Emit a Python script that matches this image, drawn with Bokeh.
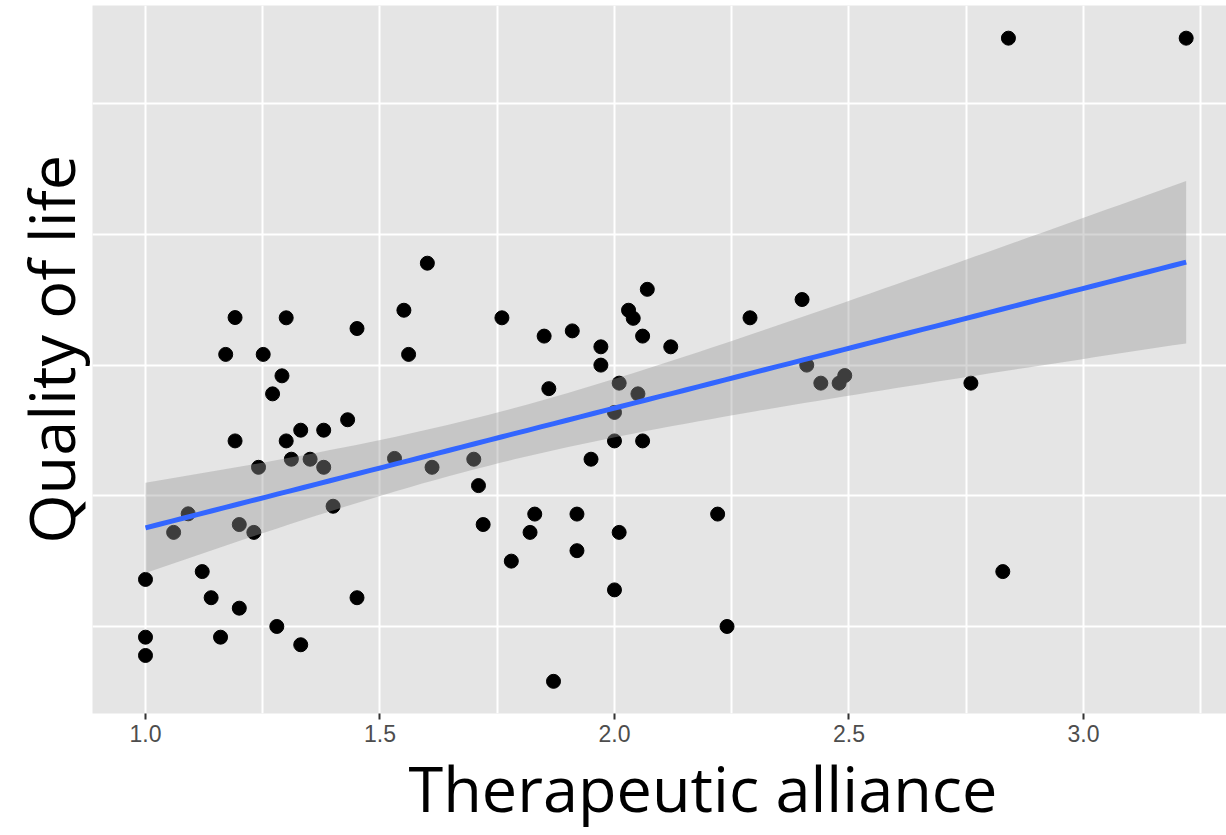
import numpy as np
from bokeh.plotting import figure
from bokeh.models import Range1d, FixedTicker, NumeralTickFormatter, Title
from bokeh.embed import file_html
from bokeh.resources import INLINE

# Therapeutic alliance (x) and Quality of life (y)
alliance = [2.840, 3.219, 1.601, 1.191, 1.300, 1.551, 1.451, 1.171, 1.251, 1.561,
            1.291, 1.271, 1.431, 1.331, 1.380, 1.191, 1.300, 1.311, 1.351, 1.241,
            1.380, 1.531, 1.611, 1.091, 1.060, 1.200, 1.231, 1.400, 1.000, 1.121,
            1.140, 1.200, 1.451, 1.280, 1.331, 1.000, 1.160, 1.000, 1.760, 1.850,
            1.910, 1.971, 1.971, 2.030, 2.040, 2.070, 2.060, 2.120, 1.860, 2.010,
            2.050, 2.000, 2.000, 2.060, 1.950, 1.700, 1.710, 1.720, 1.830, 1.920,
            1.820, 2.010, 1.920, 1.780, 2.000, 2.220, 2.240, 1.870, 2.289, 2.400,
            2.410, 2.440, 2.479, 2.491, 2.760, 2.828]
quality = [4.251, 4.251, 3.390, 3.182, 3.181, 3.210, 3.140, 3.041, 3.041, 3.041,
           2.959, 2.890, 2.791, 2.751, 2.751, 2.710, 2.710, 2.640, 2.640, 2.609,
           2.609, 2.643, 2.609, 2.431, 2.360, 2.390, 2.360, 2.460, 2.180, 2.210,
           2.110, 2.070, 2.110, 2.000, 1.930, 1.959, 1.959, 1.889, 3.181, 3.111,
           3.131, 3.070, 3.000, 3.210, 3.179, 3.290, 3.111, 3.070, 2.910, 2.931,
           2.890, 2.819, 2.710, 2.710, 2.640, 2.640, 2.539, 2.390, 2.430, 2.430,
           2.360, 2.360, 2.290, 2.250, 2.140, 2.430, 2.000, 1.790, 3.181, 3.251,
           3.000, 2.931, 2.931, 2.960, 2.931, 2.210]

x_ticks = [1.0, 1.5, 2.0, 2.5, 3.0]
x_minor = [1.25, 1.75, 2.25, 2.75, 3.25]
y_grid = [2.0, 2.5, 3.0, 3.5, 4.0]
x_title = "Therapeutic alliance"
y_title = "Quality of life"

# linear fit with 95% confidence band (like geom_smooth(method="lm"))
xa = np.array(alliance)
ya = np.array(quality)
n = len(xa)
b1, b0 = np.polyfit(xa, ya, 1)
resid = ya - (b0 + b1 * xa)
s = np.sqrt(np.sum(resid ** 2) / (n - 2))
sxx = np.sum((xa - xa.mean()) ** 2)
t975 = 1.9925
xs = np.linspace(xa.min(), xa.max(), 80)
yfit = b0 + b1 * xs
se = s * np.sqrt(1.0 / n + (xs - xa.mean()) ** 2 / sxx)

x0, x1 = 0.887, 3.305
y0, y1 = 1.667, 4.376
p = figure(width=1226, height=835, output_backend="svg", toolbar_location=None,
           x_range=Range1d(x0, x1), y_range=Range1d(y0, y1),
           min_border_left=92, min_border_right=0, min_border_top=5,
           min_border_bottom=122)
p.background_fill_color = "#E5E5E5"
p.border_fill_color = "white"
p.outline_line_color = None

p.xaxis.ticker = FixedTicker(ticks=x_ticks, minor_ticks=x_minor)
p.xaxis.formatter = NumeralTickFormatter(format="0.0")
p.xaxis.axis_line_color = None
p.xaxis.major_tick_line_color = "#333333"
p.xaxis.major_tick_line_width = 2
p.xaxis.major_tick_in = 0
p.xaxis.major_tick_out = 6
p.xaxis.minor_tick_line_color = None
p.xaxis.major_label_text_font = "Liberation Sans"
p.xaxis.major_label_text_font_size = "23px"
p.xaxis.major_label_text_color = "#4D4D4D"
p.xaxis.major_label_standoff = 5

p.yaxis.visible = False
p.ygrid.ticker = FixedTicker(ticks=y_grid)

p.xgrid.grid_line_color = "white"
p.xgrid.grid_line_width = 2
p.xgrid.minor_grid_line_color = "white"
p.xgrid.minor_grid_line_width = 2
p.ygrid.grid_line_color = "white"
p.ygrid.grid_line_width = 2

p.scatter(alliance, quality, size=14, color="black")
p.varea(x=xs, y1=yfit - t975 * se, y2=yfit + t975 * se,
        fill_color="#999999", fill_alpha=0.4)
p.line(xs, yfit, line_color="#3366FF", line_width=5)

p.add_layout(Title(text=x_title, align="left", offset=316,
                   vertical_align="top", standoff=0, text_line_height=0.8,
                   text_font="Open Sans", text_font_size="63px",
                   text_font_style="normal", text_color="black"), "below")
p.add_layout(Title(text=y_title, align="left", offset=170,
                   vertical_align="bottom", standoff=0, text_line_height=0.8,
                   text_font="Open Sans", text_font_size="63px",
                   text_font_style="normal", text_color="black"), "left")

open("out.html", "w").write(file_html(p, INLINE))
